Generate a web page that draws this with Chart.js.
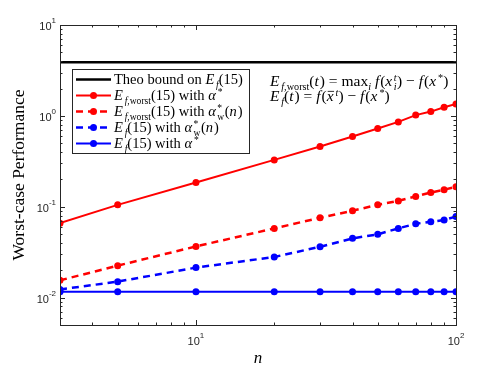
<!DOCTYPE html>
<html>
<head>
<meta charset="utf-8">
<script src="https://cdn.jsdelivr.net/npm/chart.js@4/dist/chart.umd.min.js"></script>
<style>
    html, body { margin: 0; padding: 0; background: #fff; }
    #wrap { width: 498px; height: 366px; }
</style>
</head>
<body>
<div id="wrap"><canvas id="chart" width="498" height="366"></canvas></div>
<script>
const xValues = [3, 5, 10, 20, 30, 40, 50, 60, 70, 80, 90, 100];
const theoBound = [3.9, 3.9, 3.9, 3.9, 3.9, 3.9, 3.9, 3.9, 3.9, 3.9, 3.9, 3.9];
const worstAlphaStar = [0.066, 0.105, 0.185, 0.328, 0.46, 0.593, 0.726, 0.859, 1.02, 1.115, 1.245, 1.355];
const worstAlphaW = [0.0155, 0.0225, 0.0366, 0.0578, 0.0757, 0.0904, 0.105, 0.116, 0.130, 0.1435, 0.154, 0.166];
const avgAlphaW = [0.0123, 0.015, 0.0214, 0.028, 0.0363, 0.0449, 0.0497, 0.0578, 0.065, 0.0684, 0.0715, 0.078];
const avgAlphaStar = [0.0116, 0.0116, 0.0116, 0.0116, 0.0116, 0.0116, 0.0116, 0.0116, 0.0116, 0.0116, 0.0116, 0.0116];

const xMin = 3, xMax = 100;
const yMin = 0.005, yMax = 10;
const xMajor = [10, 100];
const yMajor = [0.01, 0.1, 1, 10];

const SERIF = '"Liberation Serif", "DejaVu Serif", serif';
const SANS = '"Liberation Sans", Arial, sans-serif';

// rich text segments: italic flag, relative size, vertical shift
function seg(text, opts) {
    return Object.assign({ text, italic: false, size: 1, dy: 0 }, opts || {});
}
const I = t => seg(t, { italic: true });
const N = t => seg(t);
const SUB = (t, it) => seg(t, { italic: !!it, size: 0.66, dy: 4 });
const SUP = (t, it) => seg(t, { italic: !!it, size: 0.66, dy: -5.5 });

function drawRich(ctx, x, y, segs, base) {
    let cx = x;
    let prevItalic = false;
    segs.forEach(s => {
        if (s.stack) {
            if (prevItalic) cx += 1.5;
            let w = 0;
            s.stack.forEach(p => {
                ctx.font = `${p.italic ? 'italic ' : ''}${base * p.size}px ${SERIF}`;
                ctx.fillText(p.text, cx, y + p.dy);
                w = Math.max(w, ctx.measureText(p.text).width);
            });
            cx += w + 0.5;
            prevItalic = false;
            return;
        }
        if (prevItalic && s.dy < 0) cx += 2;
        else if (prevItalic && s.dy > 0) cx += 1.8;
        else if (prevItalic && !s.italic) cx += 1;
        ctx.font = `${s.italic ? 'italic ' : ''}${base * s.size}px ${SERIF}`;
        ctx.fillText(s.text, cx, y + s.dy);
        const w = ctx.measureText(s.text).width;
        if (s.bar) {
            ctx.save();
            ctx.lineWidth = 0.8;
            ctx.strokeStyle = '#000';
            ctx.beginPath();
            ctx.moveTo(cx + 1, y - base * 0.62);
            ctx.lineTo(cx + w + 0.5, y - base * 0.62);
            ctx.stroke();
            ctx.restore();
        }
        cx += w;
        prevItalic = s.italic && s.dy === 0;
    });
    return cx;
}

const ALPHA_W = [I('α'), { stack: [SUP('*'), SUB('w')] }, N('('), I('n'), N(')')];
const ALPHA_STAR = [I('α'), SUP('*')];

const legendItems = [
    { color: '#000', dash: [], marker: false, label: [N('Theo bound on '), I('E'), SUB('f', true), N('(15)')] },
    { color: '#ff0000', dash: [], marker: true, label: [I('E'), SUB('f,', true), SUB('worst'), N('(15) with '), ...ALPHA_STAR] },
    { color: '#ff0000', dash: [7, 5], marker: true, label: [I('E'), SUB('f,', true), SUB('worst'), N('(15) with '), ...ALPHA_W] },
    { color: '#0000ff', dash: [7, 5], marker: true, label: [I('E'), SUB('f', true), N('(15) with '), ...ALPHA_W] },
    { color: '#0000ff', dash: [], marker: true, label: [I('E'), SUB('f', true), N('(15) with '), ...ALPHA_STAR] }
];

const annoLines = [
    [I('E'), SUB('f,', true), SUB('worst'), N('('), I('t'), N(') = max'), SUB('i', true), N(' '), I('f'), N('('), I('x'), { stack: [SUP('t', true), SUB('i', true)] }, N(') − '), I('f'), N('('), I('x'), SUP('*'), N(')')],
    [I('E'), SUB('f', true), N('('), I('t'), N(') = '), I('f'), N('('), seg('x', { italic: true, bar: true }), SUP('t', true), N(') − '), I('f'), N('('), I('x'), SUP('*'), N(')')]
];

function logTicks(lo, hi) {
    const out = [];
    for (let e = -4; e <= 3; e++) {
        for (let m = 1; m <= 9; m++) {
            const v = m * Math.pow(10, e);
            if (v >= lo * 0.9999 && v <= hi * 1.0001) out.push({ v, major: m === 1 });
        }
    }
    return out;
}

const decor = {
    id: 'decor',
    afterDatasetsDraw(chart) {
        const { ctx, chartArea: a, scales } = chart;
        const xs = scales.x, ys = scales.y;
        ctx.save();
        ctx.strokeStyle = '#262626';
        ctx.lineWidth = 1;
        ctx.strokeRect(a.left + 0.5, a.top + 0.5, a.right - a.left, a.bottom - a.top);
        ctx.beginPath();
        logTicks(yMin, yMax).forEach(t => {
            const py = Math.round(ys.getPixelForValue(t.v)) + 0.5;
            const len = t.major ? 5 : 2.5;
            ctx.moveTo(a.left, py); ctx.lineTo(a.left + len, py);
            ctx.moveTo(a.right, py); ctx.lineTo(a.right - len, py);
        });
        logTicks(xMin, xMax).forEach(t => {
            const px = Math.round(xs.getPixelForValue(t.v)) + 0.5;
            const len = t.major ? 5 : 2.5;
            ctx.moveTo(px, a.bottom); ctx.lineTo(px, a.bottom - len);
            ctx.moveTo(px, a.top); ctx.lineTo(px, a.top + len);
        });
        ctx.stroke();

        // tick labels, 10 with superscript exponent
        ctx.fillStyle = '#262626';
        ctx.textBaseline = 'alphabetic';
        yMajor.forEach(v => {
            const py = ys.getPixelForValue(v);
            const exp = String(Math.round(Math.log10(v)));
            ctx.font = `8px ${SANS}`;
            const ew = ctx.measureText(exp).width;
            ctx.textAlign = 'right';
            ctx.fillText(exp, a.left - 4, py - 2);
            ctx.font = `11px ${SANS}`;
            ctx.fillText('10', a.left - 4 - ew, py + 5);
        });
        xMajor.forEach(v => {
            const px = xs.getPixelForValue(v);
            const exp = String(Math.round(Math.log10(v)));
            ctx.textAlign = 'left';
            ctx.font = `11px ${SANS}`;
            const bw = ctx.measureText('10').width;
            ctx.font = `8px ${SANS}`;
            const ew = ctx.measureText(exp).width;
            const x0 = px - (bw + ew) / 2;
            ctx.font = `11px ${SANS}`;
            ctx.fillText('10', x0, a.bottom + 20);
            ctx.font = `8px ${SANS}`;
            ctx.fillText(exp, x0 + bw, a.bottom + 13);
        });

        // axis titles
        ctx.fillStyle = '#000';
        ctx.textAlign = 'center';
        ctx.font = `italic 17px ${SERIF}`;
        ctx.fillText('n', (a.left + a.right) / 2, a.bottom + 38);
        ctx.save();
        ctx.translate(24, (a.top + a.bottom) / 2);
        ctx.rotate(-Math.PI / 2);
        ctx.font = `17.5px ${SERIF}`;
        ctx.fillText('Worst-case Performance', 0, 0);
        ctx.restore();

        // legend
        const lx = 72, ly = 69, lw = 177, lh = 84;
        ctx.fillStyle = '#fff';
        ctx.fillRect(lx, ly, lw, lh);
        ctx.strokeStyle = '#262626';
        ctx.lineWidth = 1;
        ctx.strokeRect(lx + 0.5, ly + 0.5, lw, lh);
        legendItems.forEach((it, k) => {
            const cy = ly + 10.5 + k * 16;
            ctx.strokeStyle = it.color;
            ctx.lineWidth = it.marker && !it.dash.length ? 2 : 2.5;
            ctx.setLineDash(it.dash);
            ctx.beginPath();
            ctx.moveTo(76, cy);
            ctx.lineTo(111, cy);
            ctx.stroke();
            ctx.setLineDash([]);
            if (it.marker) {
                ctx.fillStyle = it.color;
                ctx.beginPath();
                ctx.arc(93.5, cy, 3.5, 0, Math.PI * 2);
                ctx.fill();
            }
            ctx.fillStyle = '#000';
            ctx.textAlign = 'left';
            drawRich(ctx, 114, cy + 4.5, it.label, 14.5);
        });

        // formula annotation
        ctx.fillStyle = '#000';
        ctx.textAlign = 'left';
        drawRich(ctx, 270, 86, annoLines[0], 15.5);
        drawRich(ctx, 270, 101, annoLines[1], 15.5);
        ctx.restore();
    }
};

function series(values) {
    return xValues.map((x, k) => ({ x, y: values[k] }));
}

const datasetDefs = [
    { data: theoBound, color: '#000000', dash: [], width: 2.5, radius: 0 },
    { data: worstAlphaStar, color: '#ff0000', dash: [], width: 2, radius: 3.5 },
    { data: worstAlphaW, color: '#ff0000', dash: [7, 5], width: 2.5, radius: 3.5 },
    { data: avgAlphaW, color: '#0000ff', dash: [7, 5], width: 2.5, radius: 3.5 },
    { data: avgAlphaStar, color: '#0000ff', dash: [], width: 2, radius: 3.5 }
];

new Chart(document.getElementById('chart'), {
    type: 'line',
    data: {
        datasets: datasetDefs.map(d => ({
            data: series(d.data),
            borderColor: d.color,
            backgroundColor: d.color,
            borderWidth: d.width,
            borderDash: d.dash,
            pointRadius: d.radius,
            pointBorderWidth: 0,
            pointBackgroundColor: d.color,
            tension: 0,
            fill: false
        }))
    },
    options: {
        responsive: false,
        animation: false,
        events: [],
        layout: { padding: { left: 60, right: 42, top: 25, bottom: 41 } },
        plugins: { legend: { display: false }, tooltip: { enabled: false } },
        scales: {
            x: {
                type: 'logarithmic', min: xMin, max: xMax,
                grid: { display: false, drawTicks: false },
                border: { display: false },
                ticks: { display: false }
            },
            y: {
                type: 'logarithmic', min: yMin, max: yMax,
                grid: { display: false, drawTicks: false },
                border: { display: false },
                ticks: { display: false }
            }
        }
    },
    plugins: [decor]
});
</script>
</body>
</html>
